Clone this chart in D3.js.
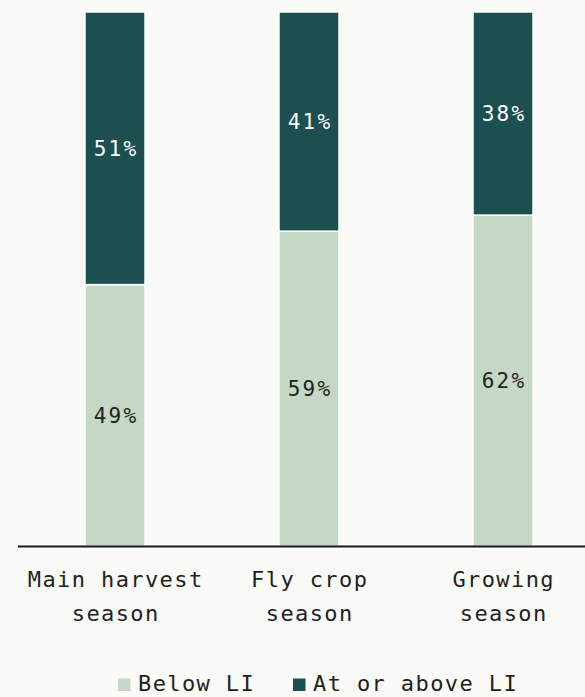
<!DOCTYPE html>
<html>
<head>
<meta charset="utf-8">
<script src="https://cdn.jsdelivr.net/npm/d3@7"></script>
<style>
  html, body { margin: 0; padding: 0; background: #fafaf6; }
  svg { display: block; }
  text { font-family: "DejaVu Sans Mono", "Liberation Mono", monospace; }
</style>
</head>
<body>
<svg id="chart" width="585" height="697"></svg>
<script>
// Share of households below / at-or-above the LI threshold, by season
const categories = [["Main harvest", "season"], ["Fly crop", "season"], ["Growing", "season"]];
const seriesNames = ["Below LI", "At or above LI"];
const belowLI = [49, 59, 62];
const atOrAboveLI = [51, 41, 38];
const colors = ["#c5d8c6", "#1b4f50"];

const W = 585, H = 697;
const plotTop = 12, baseline = 546.5;

const svg = d3.select("#chart");
svg.append("rect").attr("width", W).attr("height", H).attr("fill", "#fafaf6");

const keys = categories.map(c => c.join(" "));
const x = d3.scaleBand().domain(keys).range([18, 600]).paddingInner(0.6907).paddingOuter(0.6907 / 2);
const y = d3.scaleLinear().domain([0, 100]).range([baseline, plotTop]);

const rows = keys.map((k, i) => ({ key: k, below: belowLI[i], above: atOrAboveLI[i] }));
const stack = d3.stack().keys(["below", "above"])(rows);

const g = svg.append("g");
stack.forEach((layer, li) => {
  const lg = g.append("g");
  lg.selectAll("rect").data(layer).join("rect")
    .attr("x", d => x(d.data.key))
    .attr("width", x.bandwidth())
    .attr("y", d => y(d[1]))
    .attr("height", d => y(d[0]) - y(d[1]))
    .attr("fill", colors[li])
    .attr("stroke", "#ffffff")
    .attr("stroke-width", 1.5);
  lg.selectAll("text").data(layer).join("text")
    .attr("x", d => x(d.data.key) + x.bandwidth() / 2 + 1)
    .attr("y", d => (y(d[0]) + y(d[1])) / 2 + 7.5)
    .attr("text-anchor", "middle")
    .attr("font-size", 21)
    .attr("letter-spacing", 2.2)
    .attr("fill", li === 0 ? "#222222" : "#ffffff")
    .text(d => (d[1] - d[0]) + "%");
});

// Baseline axis
const xAxis = d3.axisBottom(x).tickSize(0).tickFormat("");
const axisG = svg.append("g").attr("transform", `translate(0,${baseline})`).call(xAxis);
axisG.select(".domain").attr("d", `M18,0H${W}`).attr("stroke", "#1a1a1a").attr("stroke-width", 2);

// Two-line category labels
categories.forEach((lines, i) => {
  const t = svg.append("text")
    .attr("text-anchor", "middle")
    .attr("font-size", 22)
    .attr("letter-spacing", 1.4)
    .attr("fill", "#222222");
  lines.forEach((ln, j) => {
    t.append("tspan")
      .attr("x", x(keys[i]) + x.bandwidth() / 2 + 0.7)
      .attr("y", 587 + j * 34)
      .text(ln);
  });
});

// Legend
const legendX = [118, 293];
seriesNames.forEach((name, i) => {
  svg.append("rect")
    .attr("x", legendX[i]).attr("y", 678.5)
    .attr("width", 12.5).attr("height", 12.5)
    .attr("fill", colors[i]);
  svg.append("text")
    .attr("x", legendX[i] + 20).attr("y", 691)
    .attr("font-size", 22)
    .attr("letter-spacing", 1.4)
    .attr("fill", "#222222")
    .text(name);
});
</script>
</body>
</html>
